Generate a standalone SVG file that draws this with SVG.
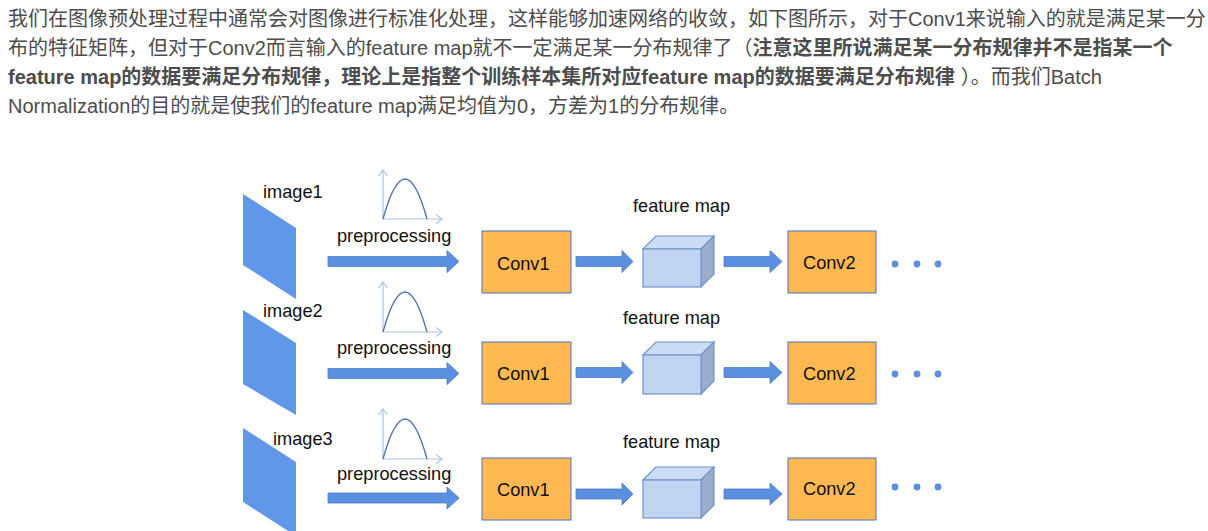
<svg xmlns="http://www.w3.org/2000/svg" width="1208" height="531" viewBox="0 0 1208 531">
<style>
.para{font-family:"Liberation Sans","Noto Sans CJK SC",sans-serif;font-size:20px;fill:#4d4d4d}
.b{font-weight:700}
.lbl{font-family:"Liberation Sans",Arial,sans-serif;font-size:18.2px;fill:#111}
.img{fill:#6197e8}
.conv{fill:#ffb852;stroke:#4a74c0;stroke-width:1}
.arr{fill:#5b8fdf;stroke:#4a7cc9;stroke-width:0.8}
.axis{fill:none;stroke:#a9c4ec;stroke-width:1.2;marker-end:url(#chev)}
.curve{fill:none;stroke:#4a72b8;stroke-width:1.3}
.cf{fill:#c0d5f2;stroke:#7393c9;stroke-width:1.2}
.ct{fill:#cbdcf5;stroke:#7393c9;stroke-width:1.2}
.cr{fill:#9aaecb;stroke:#7393c9;stroke-width:1.2}
.dot{fill:#5b8fdf}
</style>
<defs>
<marker id="chev" markerWidth="8" markerHeight="10" refX="6" refY="5" orient="auto" markerUnits="userSpaceOnUse">
<path d="M0,0.5 L6,5 L0,9.5" fill="none" stroke="#a9c4ec" stroke-width="1.2"/>
</marker>
</defs>
<rect width="1208" height="531" fill="#ffffff"/>
<g id="paragraph">
<text class="para" x="8" y="26">我们在图像预处理过程中通常会对图像进行标准化处理，这样能够加速网络的收敛，如下图所示，对于Conv1来说输入的就是满足某一分</text>
<text class="para" x="8" y="55">布的特征矩阵，但对于Conv2而言输入的feature map就不一定满足某一分布规律了（<tspan class="b">注意这里所说满足某一分布规律并不是指某一个</tspan></text>
<text class="para" x="8" y="84"><tspan class="b">feature map的数据要满足分布规律，理论上是指整个训练样本集所对应feature map的数据要满足分布规律</tspan><tspan dx="6">）。而我们Batch</tspan></text>
<text class="para" x="8" y="113">Normalization的目的就是使我们的feature map满足均值为0，方差为1的分布规律。</text>
</g>
<g id="image1"><polygon class="img" points="243,194 296,228 296,299 243,265"/><text class="lbl" x="263" y="198">image1</text></g>
<g id="image2"><polygon class="img" points="243,310 296,343 296,415 243,384"/><text class="lbl" x="263" y="317">image2</text></g>
<g id="image3"><polygon class="img" points="243,428 296,462 296,536 243,502"/><text class="lbl" x="273" y="445">image3</text></g>
<g id="dist1"><path class="axis" d="M383,219 V170"/><path class="axis" d="M383,219 H442"/><path class="curve" d="M383,219 Q405,139 427,219"/></g>
<g id="dist2"><path class="axis" d="M383,332 V282"/><path class="axis" d="M383,332 H442"/><path class="curve" d="M383,332 Q405,252 427,332"/></g>
<g id="dist3"><path class="axis" d="M383,459 V409"/><path class="axis" d="M383,459 H442"/><path class="curve" d="M383,459 Q405,379 427,459"/></g>
<g id="pre-labels">
<text class="lbl" x="337" y="242">preprocessing</text>
<text class="lbl" x="337" y="354">preprocessing</text>
<text class="lbl" x="337" y="480">preprocessing</text>
</g>
<g id="conv1-1"><rect class="conv" x="482" y="231" width="89" height="62"/><text class="lbl" x="497" y="270">Conv1</text></g>
<g id="conv1-2"><rect class="conv" x="482" y="342" width="89" height="62"/><text class="lbl" x="497" y="380">Conv1</text></g>
<g id="conv1-3"><rect class="conv" x="482" y="458" width="89" height="62"/><text class="lbl" x="497" y="496">Conv1</text></g>
<g id="fmap1"><text class="lbl" x="633" y="212">feature map</text>
<polygon class="ct" points="643,249 656,236 714,236 701,249"/><polygon class="cr" points="701,249 714,236 714,274 701,287"/><rect class="cf" x="643" y="249" width="58" height="38"/></g>
<g id="fmap2"><text class="lbl" x="623" y="324">feature map</text>
<polygon class="ct" points="643,355 656,342 714,342 701,355"/><polygon class="cr" points="701,355 714,342 714,381 701,394"/><rect class="cf" x="643" y="355" width="58" height="39"/></g>
<g id="fmap3"><text class="lbl" x="623" y="448">feature map</text>
<polygon class="ct" points="643,480 656,467 714,467 701,480"/><polygon class="cr" points="701,480 714,467 714,505 701,518"/><rect class="cf" x="643" y="480" width="58" height="38"/></g>
<g id="conv2-1"><rect class="conv" x="788" y="231" width="88" height="62"/><text class="lbl" x="803" y="269">Conv2</text></g>
<g id="conv2-2"><rect class="conv" x="788" y="342" width="88" height="62"/><text class="lbl" x="803" y="380">Conv2</text></g>
<g id="conv2-3"><rect class="conv" x="788" y="458" width="88" height="62"/><text class="lbl" x="803" y="495">Conv2</text></g>
<g id="dots1"><circle class="dot" cx="895" cy="264" r="3.4"/><circle class="dot" cx="917" cy="264" r="3.4"/><circle class="dot" cx="938" cy="264" r="3.4"/></g>
<g id="dots2"><circle class="dot" cx="895" cy="374" r="3.4"/><circle class="dot" cx="917" cy="374" r="3.4"/><circle class="dot" cx="938" cy="374" r="3.4"/></g>
<g id="dots3"><circle class="dot" cx="895" cy="487" r="3.4"/><circle class="dot" cx="917" cy="487" r="3.4"/><circle class="dot" cx="938" cy="487" r="3.4"/></g>
<g id="connectors">
<polygon class="arr" points="328,256.5 447,256.5 447,250.5 459,261.5 447,272.5 447,266.5 328,266.5"/>
<polygon class="arr" points="328,368.5 447,368.5 447,362.5 459,373.5 447,384.5 447,378.5 328,378.5"/>
<polygon class="arr" points="328,493 447,493 447,487 459,498 447,509 447,503 328,503"/>
<polygon class="arr" points="576,256.5 622,256.5 622,250.5 633,261.5 622,272.5 622,266.5 576,266.5"/>
<polygon class="arr" points="576,367.5 622,367.5 622,361.5 633,372.5 622,383.5 622,377.5 576,377.5"/>
<polygon class="arr" points="576,489 622,489 622,483 633,494 622,505 622,499 576,499"/>
<polygon class="arr" points="724,256.5 770,256.5 770,250.5 782,261.5 770,272.5 770,266.5 724,266.5"/>
<polygon class="arr" points="724,367.5 770,367.5 770,361.5 782,372.5 770,383.5 770,377.5 724,377.5"/>
<polygon class="arr" points="724,489 770,489 770,483 782,494 770,505 770,499 724,499"/>
</g>
</svg>
